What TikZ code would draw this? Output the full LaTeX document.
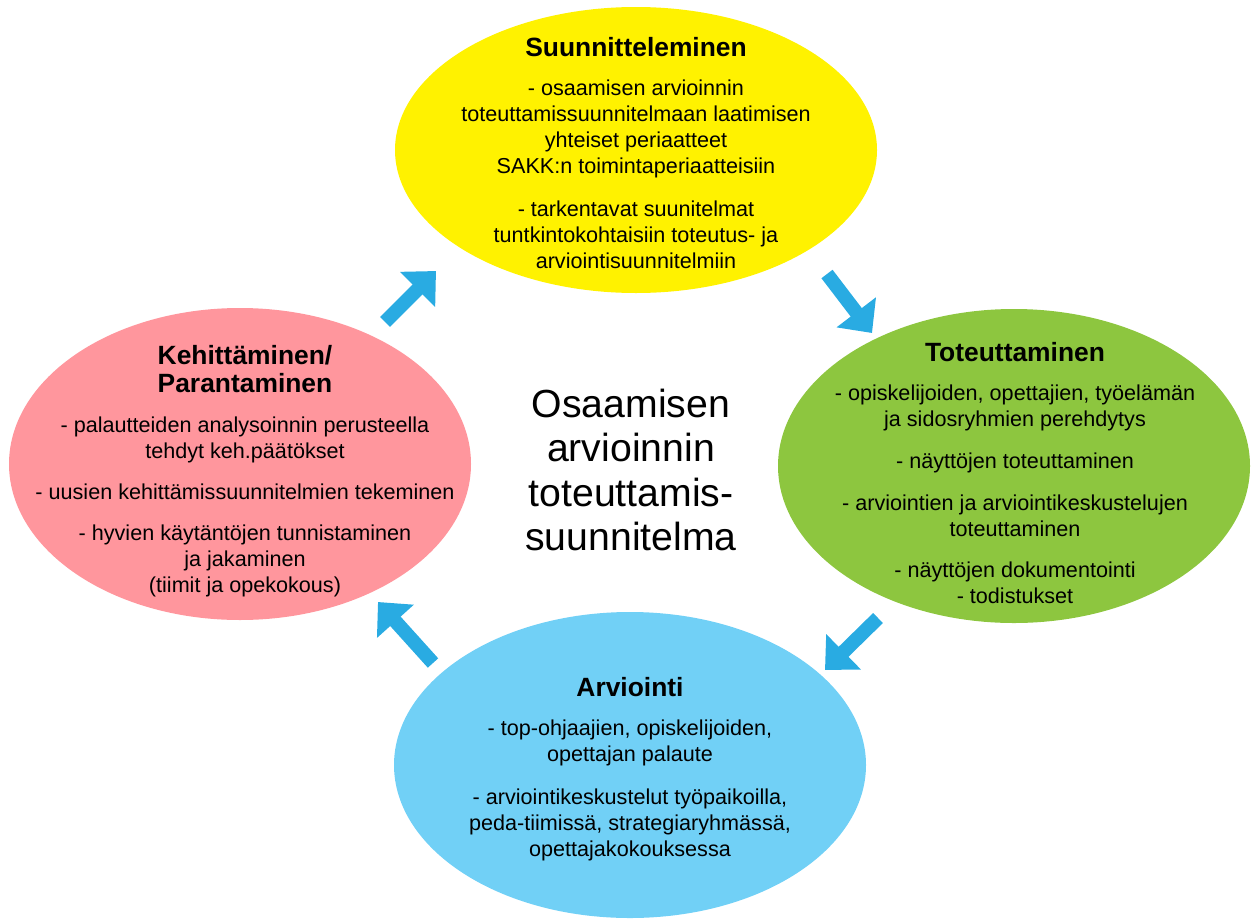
\documentclass[tikz,border=0pt]{standalone}
\usepackage{fontspec}
\setmainfont{Liberation Sans}
\usepackage{xcolor}
\usepackage{tikz}
\usetikzlibrary{shapes.geometric}
\usetikzlibrary{arrows.meta}
\definecolor{planyellow}{HTML}{FFF200}
\definecolor{implgreen}{HTML}{8DC63F}
\definecolor{devpink}{HTML}{FF969D}
\definecolor{evalblue}{HTML}{71D0F6}
\definecolor{arrowblue}{HTML}{29ABE2}
\newcommand{\heading}[1]{{\bfseries\fontsize{13.2}{16}\selectfont #1}}
\tikzset{bubble/.style={ellipse,inner sep=0pt},
         bubbletext/.style={anchor=north,align=center,inner sep=0pt,
                            font=\fontsize{10.8}{13}\selectfont},
         flow/.style={draw=arrowblue,line width=7pt,
                      -{Triangle[length=13pt,width=24pt]}}}

\begin{document}
\begin{tikzpicture}[x=0.5pt,y=-0.5pt]
\useasboundingbox (0,0) rectangle (1252,921);
\node[bubble,fill=planyellow,minimum width=241pt,minimum height=143pt] (plan) at (636,150) {};
\node[bubble,fill=implgreen,minimum width=236pt,minimum height=157pt] (impl) at (1014,466) {};
\node[bubble,fill=evalblue,minimum width=236pt,minimum height=153pt] (eval) at (630,765) {};
\node[bubble,fill=devpink,minimum width=231pt,minimum height=156pt] (dev) at (240,464) {};
\coordinate (t1) at (385,322); \coordinate (h1) at (436,271);
\coordinate (t2) at (827,274); \coordinate (h2) at (872,333);
\coordinate (t3) at (878,618); \coordinate (h3) at (825,670);
\coordinate (t4) at (433,663); \coordinate (h4) at (378,602);
\foreach \i in {1,...,4}
  \draw[flow] (t\i) -- (h\i);
\node[bubbletext] (plantext) at (636,37) {\heading{Suunnitteleminen}\\[6.5pt]
  - osaamisen arvioinnin\\ toteuttamissuunnitelmaan laatimisen\\
  yhteiset periaatteet\\ SAKK:n toimintaperiaatteisiin\\[8.5pt]
  - tarkentavat suunitelmat\\ tuntkintokohtaisiin toteutus- ja\\
  arviointisuunnitelmiin};
\node[bubbletext] (impltext) at (1015,342) {\heading{Toteuttaminen}\\[6.5pt]
  - opiskelijoiden, opettajien, työelämän\\ ja sidosryhmien perehdytys\\[8pt]
  - näyttöjen toteuttaminen\\[8pt]
  - arviointien ja arviointikeskustelujen\\ toteuttaminen\\[7.5pt]
  - näyttöjen dokumentointi\\ - todistukset};
\node[bubbletext] (evaltext) at (630,677) {\heading{Arviointi}\\[6.5pt]
  - top-ohjaajien, opiskelijoiden,\\ opettajan palaute\\[8.5pt]
  - arviointikeskustelut työpaikoilla,\\ peda-tiimissä, strategiaryhmässä,\\
  opettajakokouksessa};
\node[bubbletext] (devtext) at (245,345) {\heading{Kehittäminen/}\\[1pt]
  \heading{Parantaminen}\\[7pt]
  - palautteiden analysoinnin perusteella\\ tehdyt keh.päätökset\\[7.5pt]
  - uusien kehittämissuunnitelmien tekeminen\\[7.5pt]
  - hyvien käytäntöjen tunnistaminen\\ ja jakaminen\\ (tiimit ja opekokous)};
\node[align=center,inner sep=0pt,font=\fontsize{19.6}{22.3}\selectfont] (core) at (631,470)
  {Osaamisen\\ arvioinnin\\ toteuttamis-\\ suunnitelma};
\end{tikzpicture}
\end{document}
